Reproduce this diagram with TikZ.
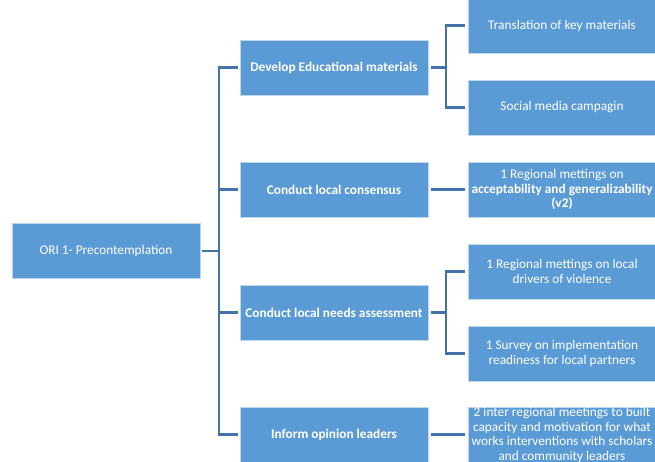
\documentclass[tikz,border=0pt]{standalone}
\usepackage{fontspec}
\setmainfont{Carlito}
\definecolor{boxblue}{RGB}{91,155,213}
\definecolor{edgeblue}{RGB}{190,215,238}
\definecolor{linkblue}{RGB}{68,114,170}
\begin{document}
\begin{tikzpicture}[x=1pt,y=-1pt,
  box/.style={rectangle, fill=boxblue, draw=edgeblue, line width=0.7pt,
    minimum width=188pt, minimum height=55pt, inner sep=0pt, text=white,
    align=center, font=\fontsize{13.3}{14.6}\selectfont},
  boldbox/.style={box, font=\fontsize{13.3}{14.6}\selectfont\bfseries},
  conn/.style={draw=linkblue, line width=2.6pt, line join=miter}]
\useasboundingbox (0,0) rectangle (655,462);
\clip (0,0) rectangle (655,462);
% nodes
\node[box] (root) at (106,251) {ORI 1- Precontemplation};
\node[boldbox] (dev)  at (334,67.5)  {Develop Educational materials};
\node[boldbox] (con)  at (334,189.5) {Conduct local consensus};
\node[boldbox] (need) at (334,312.5) {Conduct local needs assessment};
\node[boldbox] (inf)  at (334,434.5) {Inform opinion leaders};
\node[box] (tra) at (562,25.5)  {Translation of key materials};
\node[box] (soc) at (562,107.5) {Social media campagin};
\node[box] (reg) at (562,189.5) {1 Regional mettings on\\\textbf{acceptability and generalizability}\\\textbf{(v2)}};
\node[box] (drv) at (562,271.5) {1 Regional mettings on local\\drivers of violence};
\node[box] (sur) at (562,353.5) {1 Survey on implementation\\readiness for local partners};
\node[box] (int) at (562,435) {2 inter regional meetings to built\\capacity and motivation for what\\works interventions with scholars\\and community leaders};
% trunk
\coordinate (t) at (219,251);
\draw[conn] ([xshift=2pt]root.east) -- (t);
\foreach \n in {dev,con,need,inf}
  \draw[conn] (t) |- ([xshift=-2pt]\n.west);
% develop branch
\coordinate (d) at (446,67.5);
\draw[conn] ([xshift=2.5pt]dev.east) -- (d);
\foreach \n in {tra,soc}
  \draw[conn] (d) |- ([xshift=-2.5pt]\n.west);
% needs branch
\coordinate (n) at (446,312.5);
\draw[conn] ([xshift=2.5pt]need.east) -- (n);
\foreach \n in {drv,sur}
  \draw[conn] (n) |- ([xshift=-2.5pt]\n.west);
% straight links
\draw[conn] ([xshift=2.5pt]con.east) -- ([xshift=-2.5pt]reg.west);
\draw[conn] ([xshift=2.5pt]inf.east) -- ([xshift=-2.5pt]inf.east -| int.west);
\end{tikzpicture}
\end{document}
